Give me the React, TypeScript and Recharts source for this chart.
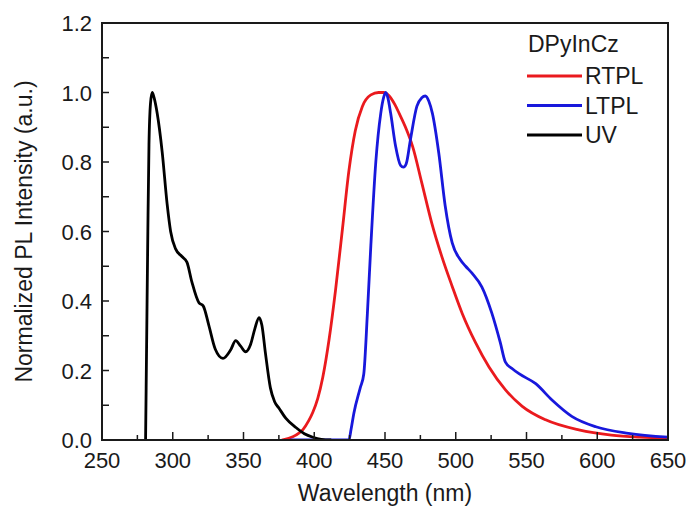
import React from 'react';
import { LineChart, Line, XAxis, YAxis } from 'recharts';

// Room-temperature photoluminescence (RTPL)
const rtplWavelength = [377, 382, 387, 392, 396, 399, 402.5, 406, 410.5, 415, 420, 424.5, 429, 434, 440, 445.5, 449, 453, 457, 460, 465, 469.5, 476, 483, 490, 497.5, 504.5, 514, 523.5, 535, 547, 563.5, 587, 610, 630, 650];
const rtplIntensity = [0, 0.005, 0.014, 0.03, 0.055, 0.08, 0.12, 0.18, 0.29, 0.43, 0.61, 0.775, 0.89, 0.96, 0.993, 1.0, 1.0, 0.99, 0.965, 0.94, 0.895, 0.845, 0.74, 0.625, 0.53, 0.442, 0.365, 0.28, 0.21, 0.145, 0.097, 0.058, 0.029, 0.014, 0.008, 0.005];

// Low-temperature photoluminescence (LTPL)
const ltplWavelength = [383, 424.5, 426, 428, 432.5, 435, 437.5, 440, 443.5, 447, 449, 450.5, 452, 454, 457.5, 461, 463, 465, 468, 472.5, 476, 478.5, 481, 483.5, 488, 492.5, 497.5, 503, 507, 511.5, 518.5, 525.5, 531.5, 535, 540, 545, 556.5, 568, 582, 599, 622, 650];
const ltplIntensity = [0, 0, 0.03, 0.077, 0.15, 0.19, 0.36, 0.56, 0.8, 0.94, 0.985, 1.0, 0.985, 0.94, 0.845, 0.79, 0.785, 0.795, 0.865, 0.96, 0.985, 0.99, 0.975, 0.94, 0.826, 0.675, 0.567, 0.52, 0.5, 0.48, 0.44, 0.365, 0.28, 0.225, 0.205, 0.19, 0.162, 0.115, 0.068, 0.038, 0.019, 0.008];

// UV absorption
const uvWavelength = [280.8, 281.6, 282.4, 283.2, 284.3, 285.5, 286.8, 289, 292.5, 296, 298.5, 302, 306.5, 310, 313.5, 318.5, 321.5, 325.5, 330, 335.5, 341, 344.5, 348, 351.5, 355, 358, 361, 363, 365.5, 369, 372, 375, 380, 387, 393, 399, 405, 412];
const uvIntensity = [0, 0.3, 0.6, 0.85, 0.97, 1.0, 0.985, 0.94, 0.83, 0.68, 0.6, 0.55, 0.528, 0.512, 0.455, 0.395, 0.386, 0.33, 0.262, 0.235, 0.26, 0.286, 0.27, 0.254, 0.275, 0.32, 0.352, 0.33, 0.25, 0.15, 0.11, 0.092, 0.062, 0.036, 0.018, 0.008, 0.002, 0];

const xTicks = [250, 275, 300, 325, 350, 375, 400, 425, 450, 475, 500, 525, 550, 575, 600, 625, 650];
const yTicks = [0, 0.1, 0.2, 0.3, 0.4, 0.5, 0.6, 0.7, 0.8, 0.9, 1.0, 1.1, 1.2];
const xDomain = [250, 650];
const yDomain = [0, 1.2];

const legendTitle = 'DPyInCz';
const seriesNames = ['RTPL', 'LTPL', 'UV'];
const seriesColors = ['#ea1a1e', '#1818dc', '#000000'];

const FONT = '"Liberation Sans", Arial, Helvetica, sans-serif';
const INK = '#1a1a1a';
const FRAME_W = 2;

// chart geometry
const W = 690;
const H = 513;
const MARGIN = { top: 23, right: 22, bottom: 0, left: 0 };
const Y_AXIS_W = 102;
const X_AXIS_H = 73;
const PLOT = {
  x: MARGIN.left + Y_AXIS_W,
  y: MARGIN.top,
  w: W - MARGIN.left - MARGIN.right - Y_AXIS_W,
  h: H - MARGIN.top - MARGIN.bottom - X_AXIS_H,
};

const toPoints = (wl: number[], v: number[]) => wl.map((w, i) => ({ wl: w, v: v[i] }));

const seriesData = [
  toPoints(rtplWavelength, rtplIntensity),
  toPoints(ltplWavelength, ltplIntensity),
  toPoints(uvWavelength, uvIntensity),
];

const XTick = (props: any) => {
  const { x, y, payload } = props;
  const v = payload.value as number;
  const major = v % 50 === 0;
  return (
    <g>
      <line x1={x} y1={y} x2={x} y2={y - (major ? 8 : 5)} stroke={INK} strokeWidth={1.5} />
      {major && (
        <text x={x} y={y + 28} textAnchor="middle" fontSize={22} fontFamily={FONT} fill={INK}>
          {v}
        </text>
      )}
    </g>
  );
};

const YTick = (props: any) => {
  const { x, y, payload } = props;
  const v = payload.value as number;
  const major = Math.round(v * 10) % 2 === 0;
  return (
    <g>
      <line x1={x} y1={y} x2={x + 7} y2={y} stroke={INK} strokeWidth={1.5} />
      {major && (
        <text x={x - 10} y={y + 8} textAnchor="end" fontSize={22} fontFamily={FONT} fill={INK}>
          {v.toFixed(1)}
        </text>
      )}
    </g>
  );
};

const XTitle = (props: any) => {
  const { viewBox } = props;
  return (
    <text x={viewBox.x + viewBox.width / 2} y={viewBox.y + 61} textAnchor="middle" fontSize={23} fontFamily={FONT} fill={INK}>
      Wavelength (nm)
    </text>
  );
};

const YTitle = (props: any) => {
  const { viewBox } = props;
  const cx = 32;
  const cy = viewBox.y + viewBox.height / 2;
  return (
    <text x={cx} y={cy} transform={`rotate(-90 ${cx} ${cy})`} textAnchor="middle" fontSize={23} fontFamily={FONT} fill={INK}>
      Normalized PL Intensity (a.u.)
    </text>
  );
};

// Plot frame and the legend block
const Overlay = () => (
  <svg width={W} height={H} style={{ position: 'absolute', left: 0, top: 0, pointerEvents: 'none' }}>
    <rect x={PLOT.x} y={PLOT.y} width={PLOT.w} height={PLOT.h} fill="none" stroke={INK} strokeWidth={FRAME_W} />
    <text x={528} y={52} fontSize={23} fontFamily={FONT} fill={INK}>
      {legendTitle}
    </text>
    {seriesNames.map((name, i) => {
      const cy = 76 + i * 29.5;
      return (
        <g key={name}>
          <line x1={527} y1={cy} x2={582} y2={cy} stroke={seriesColors[i]} strokeWidth={3} />
          <text x={585} y={cy + 8} fontSize={23} fontFamily={FONT} fill={INK}>
            {name}
          </text>
        </g>
      );
    })}
  </svg>
);

export default function App() {
  return (
    <div style={{ position: 'absolute', left: 0, top: 0, width: W, height: H, background: '#fff' }}>
      <LineChart width={W} height={H} margin={MARGIN}>
        <XAxis
          dataKey="wl"
          type="number"
          domain={xDomain}
          ticks={xTicks}
          interval={0}
          allowDataOverflow
          height={X_AXIS_H}
          tickSize={0}
          tickMargin={0}
          tickLine={false}
          axisLine={{ stroke: INK, strokeWidth: FRAME_W }}
          tick={<XTick />}
          label={<XTitle />}
        />
        <YAxis
          type="number"
          domain={yDomain}
          ticks={yTicks}
          interval={0}
          allowDataOverflow
          width={Y_AXIS_W}
          tickSize={0}
          tickMargin={0}
          tickLine={false}
          axisLine={{ stroke: INK, strokeWidth: FRAME_W }}
          tick={<YTick />}
          label={<YTitle />}
        />
        {seriesData.map((d, i) => (
          <Line
            key={seriesNames[i]}
            data={d}
            dataKey="v"
            name={seriesNames[i]}
            type="monotone"
            stroke={seriesColors[i]}
            strokeWidth={2.8}
            dot={false}
            activeDot={false}
            isAnimationActive={false}
          />
        ))}
      </LineChart>
      <Overlay />
    </div>
  );
}
